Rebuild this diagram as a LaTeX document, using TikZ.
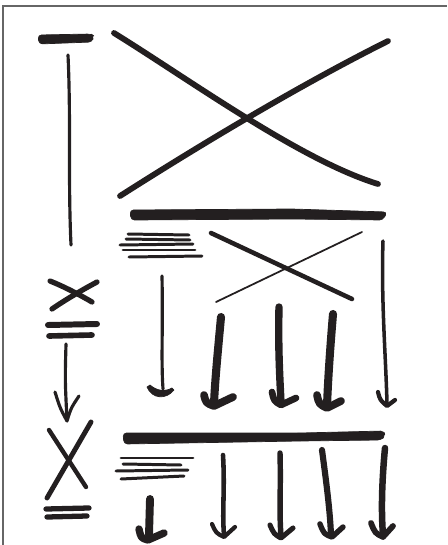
\documentclass[tikz,border=0pt]{standalone}
\usepackage{tikz}
\definecolor{ink}{HTML}{231F20}

\begin{document}
\begin{tikzpicture}[x=0.02cm,y=-0.02cm,
  pen/.style={draw=ink,line width=#1,line cap=round,line join=round},
  pen/.default=1.7pt,
  blot/.style={fill=ink,draw=ink,line width=0.4pt,line join=round,rounded corners=2pt}]
  \useasboundingbox (0,0) rectangle (447,545);
  % frame
  \draw[black!60,line width=0.9pt] (3,545) -- (3,6) -- (447,6);

  % left column, top
  \fill[blot] (38,35) -- (91,34) -- (94,36) -- (92,42) -- (39,44) -- cycle;
  \draw[pen=1.8pt] (68,55) .. controls (71,120) and (68,180) .. (71,245);

  % big cross
  \draw[pen=3.3pt] (114,33) .. controls (190,80) and (300,160) .. (378,184);
  \draw[pen=3.3pt] (388,41) .. controls (300,85) and (200,145) .. (120,196);

  % upper bar
  \fill[blot] (130,210) -- (292,209) -- (387,212) -- (383,220) -- (292,219) -- (131,220) -- cycle;

  % upper text lines
  \draw[pen] (128,234) -- (189,235);
  \draw[pen] (126,239) -- (190,240);
  \draw[pen] (120,245) -- (193,244);
  \draw[pen] (123,250) -- (195,250);
  \draw[pen] (129,257) -- (202,256);

  % small cross
  \draw[pen=2.6pt] (211,233) -- (352,299);
  \draw[pen=1pt] (362,232) -- (216,302);

  % upper arrows
  \draw[pen=1.8pt] (162,276) .. controls (163,330) and (161,360) .. (163,389);
  \fill[blot,rounded corners=0pt] (147,387) .. controls (152,399) and (166,400) .. (174,390)
    -- (172,388) .. controls (165,392) and (157,391) .. (150,385) -- cycle;

  \draw[pen=4.6pt] (221,317) .. controls (218,350) and (215,380) .. (214,404);
  \draw[pen=4.4pt] (204,395) .. controls (206,403) .. (214,406) -- (233,397);

  \draw[pen=4.2pt] (279,307) .. controls (278,350) and (280,380) .. (281,403);
  \draw[pen=3.8pt] (272,392) .. controls (274,401) .. (281,405) -- (296,398);

  \draw[pen=4.6pt] (333,314) .. controls (330,350) and (328,380) .. (327,406);
  \draw[pen=4.4pt] (317,395) .. controls (319,404) .. (327,408) -- (341,401);

  \draw[pen=2pt] (383,241) .. controls (381,300) and (386,360) .. (387,404);
  \draw[pen=2.4pt] (378,392) .. controls (380,400) .. (387,406) -- (395,400);

  % left column, middle
  \draw[pen=3pt] (50,281) .. controls (65,287) and (80,295) .. (92,302);
  \draw[pen=3pt] (97,282) .. controls (82,290) and (65,300) .. (52,309);
  \draw[pen=3.4pt] (48,325) -- (97,324);
  \draw[pen=3.2pt] (49,336) -- (92,335);
  \draw[pen=1.8pt] (66,344) .. controls (65,380) .. (67,420);
  \draw[pen=1.8pt] (55,392) .. controls (60,408) .. (67,421) .. controls (71,408) .. (79,396);

  % left column, bottom
  \draw[pen=2.5pt] (49,430) -- (86,487);
  \draw[pen=2.8pt] (91,422) -- (47,498);
  \draw[pen=3pt] (46,509) -- (89,508);
  \draw[pen=3pt] (47,517) -- (87,516);

  % lower bar
  \fill[blot] (123,433) -- (300,433) -- (384,431) -- (385,436) -- (381,440) -- (300,441) -- (124,444) -- cycle;

  % lower text lines
  \draw[pen] (121,458) -- (193,458);
  \draw[pen] (123,464) -- (181,465);
  \draw[pen] (116,471) -- (188,470);
  \draw[pen] (121,479) -- (184,476);

  % lower arrows
  \draw[pen=4.5pt] (150,499) -- (149,535);
  \draw[pen=4.2pt] (139,529) .. controls (141,538) .. (148,540) -- (164,533);

  \draw[pen=2.6pt] (223,455) .. controls (225,490) and (222,510) .. (224,535);
  \draw[pen=2.4pt] (212,524) .. controls (216,533) .. (224,537) -- (235,527);

  \draw[pen=3.1pt] (280,453) .. controls (281,490) and (279,510) .. (281,536);
  \draw[pen=2.9pt] (270,525) .. controls (274,534) .. (281,538) -- (293,528);

  \draw[pen=3.5pt] (322,450) .. controls (326,480) and (330,510) .. (331,535);
  \draw[pen=3.1pt] (320,524) .. controls (324,534) .. (332,537) -- (343,527);

  \draw[pen=3.7pt] (385,448) .. controls (382,480) and (381,510) .. (383,535);
  \draw[pen=3.3pt] (371,523) .. controls (375,533) .. (383,537) -- (393,526);
\end{tikzpicture}
\end{document}
